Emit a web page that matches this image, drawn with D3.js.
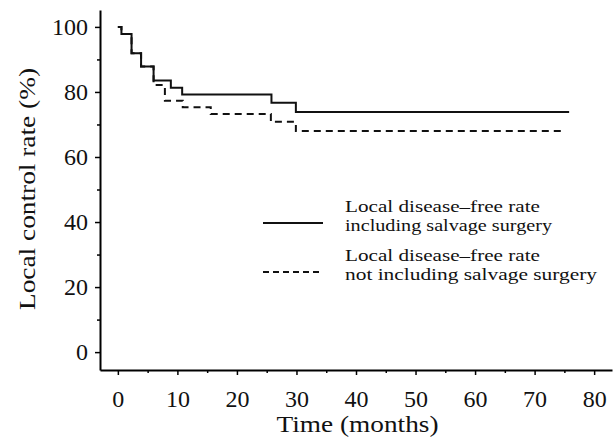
<!DOCTYPE html>
<html>
<head>
<meta charset="utf-8">
<script src="https://cdn.jsdelivr.net/npm/d3@7"></script>
<style>
    body { margin: 0; background: #fff; }
    svg, svg text { font-family: "Liberation Serif", Tinos, "Times New Roman", Times, serif !important; }
</style>
</head>
<body>
<div id="chart"></div>
<script>
// Local control (Kaplan-Meier style) curves
const includingTimes = [0, 0.6, 2.3, 3.9, 6.0, 8.9, 10.8, 25.8, 29.9, 75.8];
const includingRates = [100, 97.8, 91.9, 87.8, 83.5, 81.3, 79.2, 76.7, 73.8, 73.8];

const notIncludingTimes = [0, 0.6, 2.3, 3.9, 6.0, 7.9, 10.9, 15.6, 25.7, 29.9, 74.8];
const notIncludingRates = [100, 97.8, 91.9, 87.8, 82.1, 77.3, 75.3, 73.2, 70.8, 68.0, 67.8];

const xTicks = [0, 10, 20, 30, 40, 50, 60, 70, 80];
const xMinorTicks = [5, 15, 25, 35, 45, 55, 65, 75];
const yTicks = [0, 20, 40, 60, 80, 100];
const yMinorTicks = [10, 30, 50, 70, 90];

const legendLabels = [
    ["Local disease\u2013free rate", "including salvage surgery"],
    ["Local disease\u2013free rate", "not including salvage surgery"],
];

function toPoints(times, rates) {
    return times.map((t, i) => ({x: t, y: rates[i]}));
}

const width = 616;
const height = 445;
const serif = "'Liberation Serif', Tinos, 'Times New Roman', Times, serif";

const svg = d3.select("#chart")
    .append("svg")
    .attr("width", width)
    .attr("height", height)
    .attr("viewBox", [0, 0, width, height]);

const xScale = d3.scaleLinear().domain([-3, 83]).range([100, 612]);
const yScale = d3.scaleLinear().domain([-5.5, 105.2]).range([370, 10]);

// x axis (major + minor ticks)
svg.append("g")
    .attr("transform", `translate(0,${yScale.range()[0]})`)
    .call(d3.axisBottom(xScale).tickValues(xMinorTicks).tickSize(3).tickSizeOuter(0).tickFormat(""))
    .call((g) => g.select(".domain").remove())
    .call((g) => g.selectAll("line").attr("stroke-width", 1.5));

svg.append("g")
    .attr("transform", `translate(0,${yScale.range()[0]})`)
    .call(d3.axisBottom(xScale).tickValues(xTicks).tickSize(5).tickSizeOuter(0).tickPadding(15))
    .attr("font-family", serif)
    .call((g) => g.select(".domain").attr("stroke-width", 2))
    .call((g) => g.selectAll("line").attr("stroke-width", 1.5))
    .call((g) => g.selectAll("text").attr("font-size", 24).attr("fill", "#111"));

// y axis (major + minor ticks)
svg.append("g")
    .attr("transform", `translate(${xScale.range()[0]},0)`)
    .call(d3.axisLeft(yScale).tickValues(yMinorTicks).tickSize(3).tickSizeOuter(0).tickFormat(""))
    .call((g) => g.select(".domain").remove())
    .call((g) => g.selectAll("line").attr("stroke-width", 1.5));

svg.append("g")
    .attr("transform", `translate(${xScale.range()[0]},0)`)
    .call(d3.axisLeft(yScale).tickValues(yTicks).tickSize(5).tickSizeOuter(0).tickPadding(7))
    .attr("font-family", serif)
    .call((g) => g.select(".domain").attr("stroke-width", 2))
    .call((g) => g.selectAll("line").attr("stroke-width", 1.5))
    .call((g) => g.selectAll("text").attr("font-size", 24).attr("fill", "#111"));

// axis titles
svg.append("text")
    .attr("x", 357.5)
    .attr("y", 432)
    .attr("text-anchor", "middle")
    .attr("font-size", 24)
    .attr("textLength", 162)
    .attr("lengthAdjust", "spacingAndGlyphs")
    .attr("fill", "#111")
    .text("Time (months)");

svg.append("text")
    .attr("transform", `translate(35,189) rotate(270)`)
    .attr("text-anchor", "middle")
    .attr("font-size", 24)
    .attr("textLength", 242)
    .attr("lengthAdjust", "spacingAndGlyphs")
    .attr("fill", "#111")
    .text("Local control rate (%)");

// curves
const stepLine = d3.line()
    .curve(d3.curveStepAfter)
    .x((d) => xScale(d.x))
    .y((d) => yScale(d.y));

const series = [
    {points: toPoints(includingTimes, includingRates), dash: null},
    {points: toPoints(notIncludingTimes, notIncludingRates), dash: "7,5"},
];

svg.append("g")
    .selectAll("path")
    .data(series)
    .join("path")
    .attr("d", (d) => stepLine(d.points))
    .attr("fill", "none")
    .attr("stroke", "#111")
    .attr("stroke-width", 2)
    .attr("stroke-dasharray", (d) => d.dash);

// legend
const legendRows = [
    {lineY: 223, textY: [212, 231], widths: [195, 207], dash: null},
    {lineY: 272, textY: [261, 280], widths: [195, 252], dash: "6,4"},
];

const legend = svg.append("g");

legend.selectAll("line")
    .data(legendRows)
    .join("line")
    .attr("x1", 263)
    .attr("x2", 323)
    .attr("y1", (d) => d.lineY)
    .attr("y2", (d) => d.lineY)
    .attr("stroke", "#111")
    .attr("stroke-width", 2)
    .attr("stroke-dasharray", (d) => d.dash);

legendRows.forEach((row, i) => {
    legend.selectAll(`.legend-text-${i}`)
        .data(legendLabels[i])
        .join("text")
        .attr("class", `legend-text-${i}`)
        .attr("x", 345)
        .attr("y", (_, j) => row.textY[j])
        .attr("font-size", 16.5)
        .attr("textLength", (_, j) => row.widths[j])
        .attr("lengthAdjust", "spacingAndGlyphs")
        .attr("fill", "#111")
        .text((d) => d);
});
</script>
</body>
</html>
